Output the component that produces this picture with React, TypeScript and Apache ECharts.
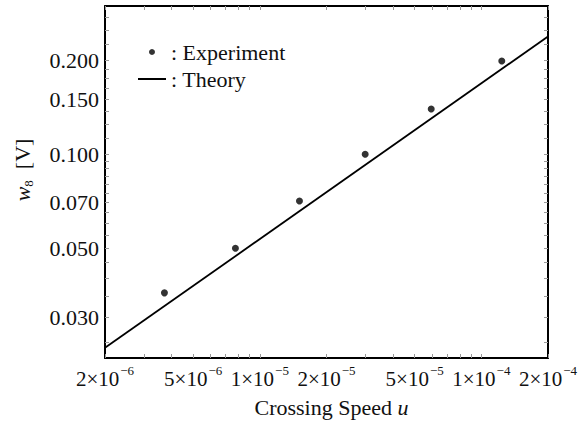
import React, { useEffect, useRef } from "react";
import * as echarts from "echarts";

// Experimental data: crossing speed u and measured w8 [V]
const expU = [3.71e-6, 7.76e-6, 1.51e-5, 2.99e-5, 5.94e-5, 1.237e-4];
const expW = [0.036, 0.05, 0.0709, 0.1, 0.1397, 0.199];

// Theory line (straight line in log-log)
const theoryU = [2e-6, 2e-4];
const theoryW = [0.0240, 0.2384];

// Axis ranges
const xRange = [2e-6, 2e-4];
const yRange = [0.02227, 0.2985];

// Tick labels
const xLabelValues = [2e-6, 5e-6, 1e-5, 2e-5, 5e-5, 1e-4, 2e-4];
const xLabelMantissa = ["2", "5", "1", "2", "5", "1", "2"];
const xLabelExponent = ["−6", "−6", "−5", "−5", "−5", "−4", "−4"];
const yLabelValues = [0.03, 0.05, 0.07, 0.1, 0.15, 0.2];
const yTickLabels = ["0.030", "0.050", "0.070", "0.100", "0.150", "0.200"];

// Minor tick positions
const xTickValues = [
  2e-6, 3e-6, 4e-6, 5e-6, 6e-6, 7e-6, 8e-6, 9e-6,
  1e-5, 2e-5, 3e-5, 4e-5, 5e-5, 6e-5, 7e-5, 8e-5, 9e-5,
  1e-4, 2e-4,
];
const yTickValues = [
  0.025, 0.03, 0.035, 0.04, 0.045, 0.05, 0.055, 0.06, 0.065, 0.07, 0.075,
  0.08, 0.085, 0.09, 0.095, 0.1, 0.1125, 0.125, 0.1375, 0.15, 0.1625, 0.175,
  0.1875, 0.2, 0.225, 0.25, 0.275,
];

const FONT = "'Liberation Serif', 'Times New Roman', 'DejaVu Serif', serif";
const lg = (v: number) => Math.log10(v);

function nearestIndex(arr: number[], v: number) {
  let best = 0;
  let bd = Infinity;
  arr.forEach((a, i) => {
    const d = Math.abs(lg(a) - v);
    if (d < bd) {
      bd = d;
      best = i;
    }
  });
  return best;
}

export default function App() {
  const ref = useRef<HTMLDivElement>(null);
  useEffect(() => {
    if (!ref.current) return;
    const chart = echarts.init(ref.current, undefined, { renderer: "svg" });

    const xMin = lg(xRange[0]);
    const xMax = lg(xRange[1]);
    const yMin = lg(yRange[0]);
    const yMax = lg(yRange[1]);

    const tickStyle = {
      show: true,
      inside: true,
      length: 4,
      lineStyle: { color: "#999", width: 1 },
    };
    const lineStyle = { show: true, onZero: false, lineStyle: { color: "#000", width: 2 } };

    const xTicks = xTickValues.map(lg);
    const yTicks = yTickValues.map(lg);

    const option: any = {
      animation: false,
      backgroundColor: "#fff",
      textStyle: { fontFamily: FONT },
      grid: { left: 105, right: 35, top: 6, bottom: 66, containLabel: false },
      legend: [
        {
          data: [{ name: "Experiment", icon: "circle" }],
          left: 149,
          top: 41,
          padding: 0,
          itemWidth: 6,
          itemHeight: 6,
          formatter: (n: string) => "  : " + n,
          textStyle: { fontFamily: FONT, fontSize: 22, color: "#111" },
          selectedMode: false,
        },
        {
          data: [{ name: "Theory", icon: "rect" }],
          left: 138,
          top: 68,
          padding: 0,
          itemWidth: 28,
          itemHeight: 2,
          formatter: (n: string) => ": " + n,
          textStyle: { fontFamily: FONT, fontSize: 22, color: "#111" },
          selectedMode: false,
        },
      ],
      xAxis: [
        {
          type: "value",
          position: "bottom",
          min: xMin,
          max: xMax,
          axisLine: lineStyle,
          splitLine: { show: false },
          axisTick: { ...tickStyle, customValues: xTicks },
          axisLabel: {
            customValues: xLabelValues.map(lg),
            margin: 9,
            formatter: (v: number) => {
              const i = nearestIndex(xLabelValues, v);
              return `{b|${xLabelMantissa[i]}×10}{s|${xLabelExponent[i]}}`;
            },
            rich: {
              b: { fontFamily: FONT, fontSize: 21, lineHeight: 22, color: "#111", verticalAlign: "bottom" },
              s: {
                fontFamily: FONT,
                fontSize: 13,
                lineHeight: 13,
                color: "#111",
                verticalAlign: "bottom",
                padding: [0, 0, 12, 1],
              },
            },
          },
          name: "{n|Crossing Speed }{i|u}",
          nameLocation: "middle",
          nameGap: 38,
          nameMoveOverlap: false,
          nameTextStyle: {
            padding: [0, 0, 0, 10],
            rich: {
              n: { fontFamily: FONT, fontSize: 22, color: "#111" },
              i: { fontFamily: FONT, fontSize: 22, fontStyle: "italic", color: "#111" },
            },
          },
        },
        {
          type: "value",
          position: "top",
          min: xMin,
          max: xMax,
          axisLine: lineStyle,
          splitLine: { show: false },
          axisTick: { ...tickStyle, customValues: xTicks },
          axisLabel: { show: false },
        },
      ],
      yAxis: [
        {
          type: "value",
          position: "left",
          min: yMin,
          max: yMax,
          axisLine: lineStyle,
          splitLine: { show: false },
          axisTick: { ...tickStyle, customValues: yTicks },
          axisLabel: {
            customValues: yLabelValues.map(lg),
            margin: 6,
            fontFamily: FONT,
            fontSize: 22,
            color: "#111",
            formatter: (v: number) => yTickLabels[nearestIndex(yLabelValues, v)],
          },
          name: "{i|w}{s|8}{n|  [V]}",
          nameLocation: "middle",
          nameGap: 72,
          nameMoveOverlap: false,
          nameRotate: 90,
          nameTextStyle: {
            padding: [0, 0, 0, 24],
            rich: {
              i: { fontFamily: FONT, fontSize: 22, fontStyle: "italic", color: "#111", lineHeight: 22, verticalAlign: "top" },
              s: { fontFamily: FONT, fontSize: 13, color: "#111", lineHeight: 13, verticalAlign: "top", padding: [11, 0, 0, 0] },
              n: { fontFamily: FONT, fontSize: 22, color: "#111", lineHeight: 22, verticalAlign: "top" },
            },
          },
        },
        {
          type: "value",
          position: "right",
          min: yMin,
          max: yMax,
          axisLine: lineStyle,
          splitLine: { show: false },
          axisTick: { ...tickStyle, customValues: yTicks },
          axisLabel: { show: false },
        },
      ],
      series: [
        {
          name: "Experiment",
          type: "scatter",
          xAxisIndex: 0,
          yAxisIndex: 0,
          symbol: "circle",
          symbolSize: 7,
          itemStyle: { color: "#000" },
          data: expU.map((u, i) => [lg(u), lg(expW[i])]),
        },
        {
          name: "Theory",
          type: "line",
          xAxisIndex: 0,
          yAxisIndex: 0,
          symbol: "none",
          showSymbol: false,
          lineStyle: { color: "#000", width: 1.8 },
          itemStyle: { color: "#000" },
          data: theoryU.map((u, i) => [lg(u), lg(theoryW[i])]),
        },
      ],
    };

    chart.setOption(option);
    return () => chart.dispose();
  }, []);

  return <div ref={ref} style={{ width: 583, height: 424, position: "absolute", left: 0, top: 0 }} />;
}
